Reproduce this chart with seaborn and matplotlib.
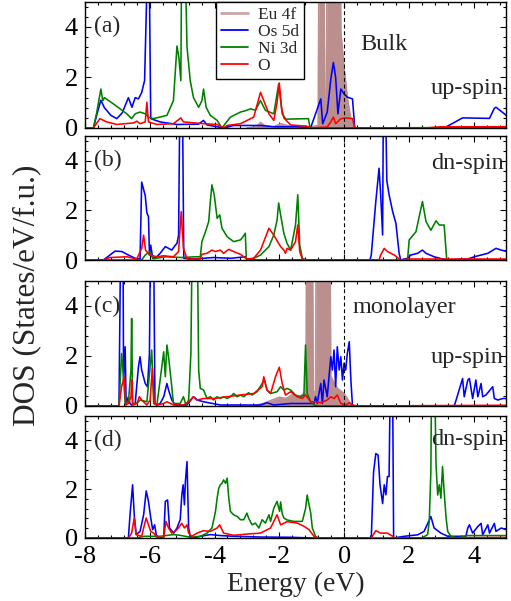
import matplotlib
matplotlib.use("Agg")
import matplotlib.pyplot as plt
from matplotlib.lines import Line2D
from matplotlib.ticker import MultipleLocator
import pandas as pd
import seaborn as sns

# ---------------- projected DOS, (energy eV, states/eV/f.u.) ----------------
# (a) bulk, spin up
BULK_UP_EU4F = [(-3.0, 0.0), (-2.7, 0.05), (-2.58, 0.22), (-2.45, 0.1), (-2.2, 0.03), (-1.96, 0.17),
                (-1.7, 0.08), (-1.5, 0.03), (-1.0, 0.05), (-0.8, 0.1), (-0.77, 8.0), (-0.63, 8.0),
                (-0.6, 1.0), (-0.55, 1.0), (-0.52, 8.0), (-0.12, 8.0), (-0.1, 3.8), (0.0, 2.4),
                (0.1, 1.2), (0.2, 0.43), (0.33, 0.0), (5.0, 0.0)]
BULK_UP_OS5D = [(-8.0, 0.0), (-7.74, 0.0), (-7.64, 0.5), (-7.51, 1.1), (-7.4, 0.8), (-7.2, 0.5),
                (-7.02, 0.37), (-6.85, 0.6), (-6.66, 1.2), (-6.55, 0.82), (-6.45, 1.2), (-6.35, 1.15),
                (-6.25, 1.4), (-6.16, 1.88), (-6.09, 5.5), (-6.06, 8.0), (-6.03, 8.0), (-5.97, 0.37),
                (-5.68, 0.24), (-5.16, 0.14), (-4.5, 0.15), (-4.34, 0.3), (-4.23, 0.12), (-3.92, 0.05),
                (-3.72, 0.0), (-3.41, 0.1), (-2.58, 0.1), (-2.17, 0.05), (-1.5, 0.05), (-1.03, 0.02),
                (-0.88, 0.56), (-0.72, 1.15), (-0.66, 0.17), (-0.52, 0.63), (-0.41, 1.93), (-0.33, 2.59),
                (-0.26, 2.0), (-0.19, 0.56), (-0.1, 1.54), (0.0, 1.35), (0.1, 1.22), (0.26, 1.15),
                (0.33, 0.0), (3.09, 0.0), (3.66, 0.4), (4.49, 0.38), (4.64, 0.78), (4.69, 0.82),
                (4.95, 0.56), (5.0, 0.5)]
BULK_UP_NI3D = [(-8.0, 0.0), (-7.74, 0.0), (-7.64, 0.6), (-7.51, 1.54), (-7.45, 1.08), (-7.4, 1.2),
                (-7.12, 0.95), (-6.71, 0.56), (-6.56, 0.37), (-6.45, 0.56), (-6.3, 0.63), (-6.14, 0.56),
                (-6.04, 0.43), (-5.89, 0.37), (-5.47, 0.5), (-5.27, 1.08), (-5.16, 3.24), (-5.1, 2.78),
                (-5.04, 1.87), (-5.01, 8.0), (-4.93, 8.0), (-4.85, 3.2), (-4.75, 1.87), (-4.65, 1.2),
                (-4.49, 0.82), (-4.39, 1.08), (-4.34, 1.54), (-4.26, 0.82), (-4.13, 0.5), (-3.92, 0.3),
                (-3.77, 0.0), (-3.67, 0.17), (-3.51, 0.43), (-3.2, 0.63), (-3.0, 0.7), (-2.89, 0.76),
                (-2.74, 0.7), (-2.58, 1.08), (-2.43, 0.7), (-2.17, 0.56), (-2.02, 1.74), (-1.91, 0.56),
                (-1.8, 0.35), (-1.1, 0.37), (-1.05, 0.0), (5.0, 0.02)]
BULK_UP_O = [(-8.0, 0.0), (-7.74, 0.0), (-7.54, 0.37), (-7.33, 0.24), (-7.02, 0.14), (-6.5, 0.2),
             (-6.4, 0.27), (-6.3, 0.17), (-6.14, 0.24), (-6.09, 1.02), (-6.04, 0.24), (-5.78, 0.14),
             (-5.27, 0.17), (-5.04, 0.4), (-4.96, 0.24), (-4.34, 0.17), (-3.92, 0.14), (-3.72, 0.0),
             (-3.61, 0.1), (-3.2, 0.17), (-2.79, 0.43), (-2.58, 1.41), (-2.48, 1.08), (-2.32, 0.56),
             (-2.17, 0.3), (-2.07, 1.0), (-2.0, 1.78), (-1.93, 0.8), (-1.86, 0.4), (-1.65, 0.12),
             (-1.14, 0.07), (-1.03, 0.0), (-0.52, 0.04), (-0.41, 0.24), (-0.33, 0.43), (-0.26, 0.17),
             (-0.1, 0.37), (0.1, 0.4), (0.26, 0.37), (0.33, 0.0), (2.5, 0.0), (3.0, 0.05), (5.0, 0.05)]

# (b) bulk, spin down
BULK_DN_OS5D = [(-8.0, 0.0), (-7.43, 0.0), (-7.23, 0.2), (-7.07, 0.36), (-6.86, 0.34), (-6.66, 0.2),
                (-6.45, 0.07), (-6.3, 0.04), (-6.25, 3.14), (-6.14, 2.6), (-6.09, 1.9), (-6.04, 1.75),
                (-6.01, 0.2), (-5.97, 0.6), (-5.91, 0.07), (-5.78, 0.13), (-5.68, 0.27), (-5.52, 0.54),
                (-5.42, 0.47), (-5.32, 0.4), (-5.21, 0.6), (-5.16, 0.67), (-5.11, 1.0), (-5.06, 8.0),
                (-5.0, 8.0), (-4.95, 0.07), (-4.65, 0.04), (-4.03, 0.1), (-3.5, 0.07), (-3.05, 0.13),
                (-3.0, 0.0), (0.8, 0.0), (0.84, 0.2), (0.98, 2.36), (1.08, 3.7), (1.13, 2.63),
                (1.19, 1.01), (1.22, 8.0), (1.26, 8.0), (1.32, 3.2), (1.39, 2.63), (1.5, 1.95),
                (1.6, 1.48), (1.7, 0.27), (1.75, 0.0), (1.96, 0.07), (2.06, 0.2), (2.27, 0.27),
                (2.42, 0.4), (2.53, 0.27), (2.78, 0.13), (3.04, 0.04), (3.2, 0.0), (3.82, 0.04),
                (4.02, 0.13), (4.44, 0.27), (4.69, 0.47), (4.85, 0.4), (5.0, 0.35)]
BULK_DN_NI3D = [(-8.0, 0.0), (-6.25, 0.0), (-6.14, 0.2), (-6.0, 0.34), (-5.9, 0.05), (-5.5, 0.13),
                (-5.0, 0.1), (-4.6, 0.13), (-4.44, 0.13), (-4.39, 0.74), (-4.28, 1.14), (-4.18, 1.55),
                (-4.13, 2.36), (-4.08, 3.03), (-4.01, 2.63), (-3.92, 1.68), (-3.84, 1.82), (-3.77, 1.28),
                (-3.61, 0.94), (-3.41, 0.74), (-3.2, 0.81), (-3.12, 0.94), (-3.05, 1.08), (-3.02, 0.07),
                (-2.89, 0.0), (-2.58, 0.2), (-2.32, 0.54), (-2.17, 1.01), (-2.07, 1.6), (-2.02, 2.3),
                (-1.96, 1.82), (-1.86, 1.08), (-1.76, 0.67), (-1.65, 0.4), (-1.6, 0.74), (-1.5, 1.41),
                (-1.43, 2.63), (-1.37, 0.61), (-1.29, 0.07), (-1.19, 0.0), (1.96, 0.0), (2.01, 0.81),
                (2.22, 1.14), (2.42, 2.36), (2.53, 1.55), (2.68, 1.2), (2.84, 1.58), (2.94, 1.41),
                (3.09, 1.41), (3.17, 0.0), (5.0, 0.0)]
BULK_DN_O = [(-8.0, 0.0), (-7.43, 0.0), (-7.23, 0.1), (-6.71, 0.13), (-6.4, 0.04), (-6.25, 0.47),
             (-6.19, 1.0), (-6.13, 0.4), (-6.0, 0.2), (-5.78, 0.13), (-5.57, 0.17), (-5.27, 0.13),
             (-5.11, 0.34), (-5.03, 1.95), (-4.96, 0.47), (-4.85, 0.04), (-4.44, 0.04), (-4.39, 0.23),
             (-4.23, 0.27), (-4.08, 0.4), (-3.97, 0.34), (-3.82, 0.4), (-3.72, 0.27), (-3.56, 0.43),
             (-3.41, 0.34), (-3.2, 0.23), (-3.0, 0.04), (-2.79, 0.07), (-2.58, 0.4), (-2.32, 1.28),
             (-2.17, 1.0), (-1.96, 0.54), (-1.86, 0.4), (-1.81, 0.27), (-1.76, 0.47), (-1.65, 0.4),
             (-1.5, 0.74), (-1.43, 1.41), (-1.37, 0.34), (-1.29, 0.04), (-1.19, 0.0), (1.08, 0.0),
             (1.13, 0.2), (1.24, 0.47), (1.34, 0.34), (1.55, 0.2), (1.75, 0.0), (2.0, 0.04),
             (5.0, 0.04)]

# (c) monolayer, spin up
MONO_UP_EU4F = [(-2.8, 0.0), (-2.5, 0.1), (-2.2, 0.25), (-2.0, 0.35), (-1.8, 0.3), (-1.6, 0.45),
                (-1.4, 0.35), (-1.25, 0.5), (-1.18, 0.6), (-1.15, 8.0), (-0.98, 8.0), (-0.95, 0.5),
                (-0.88, 0.6), (-0.86, 8.0), (-0.71, 8.0), (-0.68, 2.0), (-0.65, 8.0), (-0.44, 8.0),
                (-0.41, 1.2), (-0.3, 0.9), (-0.2, 0.7), (-0.1, 0.6), (0.0, 0.5), (0.1, 0.3),
                (0.2, 0.1), (0.27, 0.0), (5.0, 0.0)]
MONO_UP_OS5D = [(-8.0, 0.0), (-6.95, 0.0), (-6.89, 8.0), (-6.83, 8.0), (-6.81, 1.04), (-6.76, 2.37),
                (-6.73, 0.1), (-6.66, 0.37), (-6.61, 0.1), (-6.56, 0.04), (-6.45, 0.1), (-6.35, 1.57),
                (-6.3, 1.97), (-6.25, 1.44), (-6.14, 0.9), (-6.07, 0.77), (-6.01, 2.1), (-5.97, 8.0),
                (-5.89, 8.0), (-5.84, 0.1), (-5.78, 0.04), (-5.68, 0.1), (-5.57, 0.37), (-5.47, 0.9),
                (-5.42, 0.64), (-5.32, 0.24), (-5.21, 0.04), (-4.85, 0.04), (-4.65, 0.37), (-4.54, 0.24),
                (-4.34, 0.17), (-3.82, 0.04), (-2.58, 0.04), (-2.38, 0.13), (-2.17, 0.04), (-1.65, 0.1),
                (-0.93, 0.1), (-0.88, 0.37), (-0.83, 0.1), (-0.72, 0.9), (-0.67, 0.1), (-0.62, 1.04),
                (-0.52, 0.37), (-0.41, 1.97), (-0.36, 1.44), (-0.31, 2.24), (-0.26, 0.77), (-0.21, 2.37),
                (-0.15, 1.44), (-0.1, 1.97), (-0.05, 1.04), (0.0, 1.71), (0.05, 1.44), (0.1, 2.1),
                (0.16, 2.57), (0.21, 1.04), (0.26, 0.0), (3.4, 0.0), (3.46, 0.24), (3.66, 1.1),
                (3.71, 0.37), (3.82, 1.04), (3.87, 1.1), (3.97, 0.3), (4.07, 1.04), (4.13, 0.37),
                (4.23, 0.9), (4.28, 0.37), (4.38, 0.44), (4.59, 0.77), (4.64, 0.3), (4.75, 0.24),
                (4.9, 0.3), (5.0, 0.3)]
MONO_UP_NI3D = [(-8.0, 0.0), (-6.95, 0.0), (-6.87, 2.1), (-6.81, 1.17), (-6.76, 0.1), (-6.66, 0.17),
                (-6.58, 1.44), (-6.56, 3.5), (-6.53, 0.1), (-6.4, 0.1), (-6.3, 0.24), (-6.09, 0.17),
                (-5.94, 2.24), (-5.88, 0.1), (-5.78, 0.04), (-5.68, 1.04), (-5.57, 2.17), (-5.52, 1.17),
                (-5.47, 2.44), (-5.42, 1.97), (-5.32, 0.77), (-5.27, 0.1), (-5.06, 0.1), (-4.96, 0.37),
                (-4.88, 0.04), (-4.8, 0.24), (-4.73, 2.1), (-4.68, 8.0), (-4.54, 8.0), (-4.49, 1.44),
                (-4.44, 0.7), (-4.34, 0.64), (-4.23, 0.3), (-4.13, 0.37), (-4.03, 0.24), (-3.92, 0.37),
                (-3.82, 0.3), (-3.72, 0.37), (-3.61, 0.3), (-3.51, 0.37), (-3.41, 0.5), (-3.3, 0.37),
                (-3.2, 0.44), (-3.1, 0.37), (-2.95, 0.53), (-2.84, 0.44), (-2.69, 0.57), (-2.53, 0.9),
                (-2.46, 1.04), (-2.38, 0.64), (-2.27, 0.5), (-2.07, 0.57), (-1.96, 0.77), (-1.86, 0.64),
                (-1.76, 0.7), (-1.65, 0.64), (-1.5, 0.44), (-1.34, 0.37), (-1.24, 0.44), (-1.19, 2.44),
                (-1.14, 0.5), (-1.03, 0.17), (-0.93, 0.04), (-0.8, 0.0), (5.0, 0.0)]
MONO_UP_O = [(-8.0, 0.0), (-6.95, 0.0), (-6.87, 0.77), (-6.79, 1.17), (-6.74, 0.04), (-6.66, 0.1),
             (-6.58, 0.37), (-6.56, 1.04), (-6.53, 0.04), (-6.4, 0.1), (-6.32, 0.37), (-6.25, 0.24),
             (-6.09, 0.04), (-5.99, 0.24), (-5.92, 1.5), (-5.86, 0.1), (-5.78, 0.04), (-5.57, 0.1),
             (-5.47, 0.17), (-5.27, 0.04), (-4.96, 0.04), (-4.8, 0.17), (-4.65, 0.37), (-4.54, 0.24),
             (-4.34, 0.3), (-4.03, 0.3), (-3.61, 0.37), (-3.2, 0.44), (-2.79, 0.5), (-2.53, 0.77),
             (-2.48, 1.17), (-2.38, 0.64), (-2.27, 0.5), (-2.11, 1.2), (-2.0, 1.55), (-1.91, 0.9),
             (-1.81, 0.44), (-1.65, 0.57), (-1.45, 0.37), (-1.29, 0.3), (-1.19, 0.44), (-1.03, 0.17),
             (-0.88, 0.17), (-0.72, 0.13), (-0.52, 0.24), (-0.41, 0.37), (-0.31, 0.3), (-0.21, 0.44),
             (-0.1, 0.1), (0.05, 0.04), (0.16, 0.13), (0.26, 0.04), (0.4, 0.0), (5.0, 0.03)]

# (d) monolayer, spin down
MONO_DN_OS5D = [(-8.0, 0.0), (-6.66, 0.0), (-6.61, 0.95), (-6.53, 2.18), (-6.48, 0.95), (-6.42, 0.14),
                (-6.3, 0.27), (-6.19, 0.95), (-6.11, 1.93), (-6.04, 1.5), (-5.97, 0.82), (-5.91, 0.34),
                (-5.85, 0.54), (-5.8, 0.14), (-5.73, 0.0), (-5.57, 0.0), (-5.52, 1.5), (-5.45, 1.56),
                (-5.39, 0.41), (-5.26, 0.2), (-5.16, 0.41), (-5.06, 0.75), (-5.01, 1.77), (-4.97, 2.18),
                (-4.93, 1.36), (-4.9, 2.31), (-4.85, 3.13), (-4.8, 0.41), (-4.75, 0.07), (-4.65, 0.0),
                (-4.44, 0.07), (-4.13, 0.14), (-3.82, 0.1), (-3.41, 0.07), (-2.58, 0.04), (-1.65, 0.03),
                (-1.0, 0.0), (0.84, 0.0), (0.91, 2.7), (0.98, 3.46), (1.05, 3.4), (1.11, 2.18),
                (1.19, 1.41), (1.24, 2.18), (1.29, 1.77), (1.34, 2.52), (1.39, 2.52), (1.44, 8.0),
                (1.49, 8.0), (1.53, 0.0), (1.86, 0.07), (2.27, 0.13), (2.47, 0.27), (2.68, 0.88),
                (2.78, 0.41), (2.99, 0.2), (3.2, 0.07), (3.76, 0.07), (3.82, 0.41), (3.87, 0.54),
                (3.97, 0.2), (4.13, 0.47), (4.23, 0.6), (4.28, 0.13), (4.44, 0.54), (4.49, 0.2),
                (4.64, 0.6), (4.69, 0.27), (4.85, 0.41), (5.0, 0.34)]
MONO_DN_NI3D = [(-8.0, 0.0), (-6.4, 0.0), (-6.19, 0.07), (-5.68, 0.07), (-5.27, 0.14), (-5.06, 0.11),
                (-4.75, 0.03), (-4.44, 0.07), (-4.23, 0.2), (-4.08, 0.41), (-3.97, 1.09), (-3.92, 1.63),
                (-3.87, 2.04), (-3.82, 2.18), (-3.77, 2.24), (-3.72, 2.38), (-3.66, 2.24), (-3.61, 2.45),
                (-3.56, 1.63), (-3.51, 1.09), (-3.41, 0.95), (-3.3, 0.88), (-3.2, 0.75), (-3.1, 0.75),
                (-3.0, 1.02), (-2.95, 0.82), (-2.84, 0.54), (-2.74, 0.61), (-2.63, 0.41), (-2.53, 0.75),
                (-2.43, 0.61), (-2.32, 0.95), (-2.27, 0.68), (-2.17, 1.22), (-2.07, 1.5), (-1.99, 1.09),
                (-1.96, 1.48), (-1.91, 1.0), (-1.86, 0.82), (-1.76, 0.74), (-1.55, 0.68), (-1.29, 0.68),
                (-1.19, 1.2), (-1.14, 1.76), (-1.08, 1.36), (-1.03, 1.02), (-0.98, 0.41), (-0.88, 0.07),
                (-0.8, 0.0), (2.4, 0.0), (2.58, 0.14), (2.63, 0.68), (2.68, 2.72), (2.71, 8.0),
                (2.78, 8.0), (2.84, 2.99), (2.89, 1.76), (2.94, 2.18), (2.99, 1.63), (3.04, 2.93),
                (3.09, 1.9), (3.15, 0.82), (3.2, 0.27), (3.3, 0.07), (3.5, 0.0), (3.8, 0.1),
                (4.5, 0.1), (5.0, 0.1)]
MONO_DN_O = [(-8.0, 0.0), (-6.66, 0.0), (-6.56, 0.2), (-6.48, 0.82), (-6.42, 0.14), (-6.25, 0.07),
             (-6.19, 0.41), (-6.11, 0.82), (-6.04, 0.54), (-5.97, 0.27), (-5.88, 0.2), (-5.78, 0.03),
             (-5.57, 0.03), (-5.5, 0.68), (-5.42, 0.41), (-5.32, 0.2), (-5.16, 0.34), (-5.01, 0.6),
             (-4.93, 0.41), (-4.85, 0.54), (-4.8, 0.2), (-4.7, 0.07), (-4.54, 0.2), (-4.34, 0.3),
             (-4.13, 0.27), (-3.92, 0.41), (-3.84, 0.54), (-3.72, 0.2), (-3.41, 0.11), (-3.0, 0.16),
             (-2.58, 0.2), (-2.27, 0.41), (-2.07, 0.95), (-1.96, 0.54), (-1.76, 0.67), (-1.44, 0.61),
             (-1.24, 0.48), (-1.08, 0.34), (-0.93, 0.07), (-0.82, 0.0), (0.82, 0.0), (0.87, 0.07),
             (0.98, 0.3), (1.13, 0.2), (1.34, 0.2), (1.5, 0.07), (1.55, 0.0), (5.0, 0.02)]

ORBITALS = ["Eu 4f", "Os 5d", "Ni 3d", "O"]
COLORS = {"Eu 4f": "#bc8f8f", "Os 5d": "#0000ff", "Ni 3d": "#008000", "O": "#ff0000"}

PANELS = [
    {"tag": "(a)", "pdos": {"Eu 4f": BULK_UP_EU4F, "Os 5d": BULK_UP_OS5D,
                            "Ni 3d": BULK_UP_NI3D, "O": BULK_UP_O},
     "notes": [("Bulk", 0.5, 3.3, "left"), ("up-spin", 4.93, 1.55, "right")]},
    {"tag": "(b)", "pdos": {"Os 5d": BULK_DN_OS5D, "Ni 3d": BULK_DN_NI3D, "O": BULK_DN_O},
     "notes": [("dn-spin", 4.93, 3.9, "right")]},
    {"tag": "(c)", "pdos": {"Eu 4f": MONO_UP_EU4F, "Os 5d": MONO_UP_OS5D,
                            "Ni 3d": MONO_UP_NI3D, "O": MONO_UP_O},
     "notes": [("monolayer", 0.27, 3.95, "left"), ("up-spin", 4.93, 1.95, "right")]},
    {"tag": "(d)", "pdos": {"Os 5d": MONO_DN_OS5D, "Ni 3d": MONO_DN_NI3D, "O": MONO_DN_O},
     "notes": [("dn-spin", 4.93, 4.05, "right")]},
]

sns.set_theme(style="ticks")
plt.rcParams["font.family"] = ["Liberation Serif", "DejaVu Serif"]
plt.rcParams["axes.unicode_minus"] = False

W, H = 511, 601
fig = plt.figure(figsize=(W / 100, H / 100), dpi=100)

# axes boxes in pixels: (top, bottom)
LEFT, RIGHT = 85, 506
BOXES = [(1.5, 128), (136, 260), (281, 406), (416, 538)]

for i, (panel, (top, bot)) in enumerate(zip(PANELS, BOXES)):
    ax = fig.add_axes([LEFT / W, 1 - bot / H, (RIGHT - LEFT) / W, (bot - top) / H])

    rows = []
    for orb in ORBITALS:
        for e, d in panel["pdos"].get(orb, []):
            rows.append({"E": e, "DOS": d, "orbital": orb})
    df = pd.DataFrame(rows)

    if "Eu 4f" in panel["pdos"]:
        eu = df[df["orbital"] == "Eu 4f"]
        ax.fill_between(eu["E"], 0, eu["DOS"], color=COLORS["Eu 4f"], lw=0, zorder=1)

    order = [o for o in ORBITALS if o in panel["pdos"]]
    sns.lineplot(data=df, x="E", y="DOS", hue="orbital", hue_order=order,
                 palette=COLORS, estimator=None, sort=False, lw=1.15,
                 legend=False, ax=ax, zorder=2)

    ax.axvline(0, color="black", lw=0.8, ls=(0, (3.5, 2.5)), zorder=3)

    ax.set_xlim(-8, 5)
    ax.set_ylim(0, 5)
    ax.xaxis.set_major_locator(MultipleLocator(2))
    ax.xaxis.set_minor_locator(MultipleLocator(0.4))
    ax.yaxis.set_major_locator(MultipleLocator(2))
    ax.yaxis.set_minor_locator(MultipleLocator(0.4))
    ax.tick_params(which="both", direction="in", top=True, right=True,
                   labelsize=19, pad=5, colors="black", width=0.8)
    ax.tick_params(which="major", length=4.5)
    ax.tick_params(which="minor", length=2.5)
    ax.tick_params(axis="x", pad=6)
    ax.set_xlabel("")
    ax.set_ylabel("")
    if i < 3:
        ax.tick_params(labelbottom=False)
    for sp in ax.spines.values():
        sp.set_color("black")
        sp.set_linewidth(1.0)

    ax.text(-7.72, 4.0, panel["tag"], fontsize=17, va="center", ha="left")
    for txt, x, y, ha in panel["notes"]:
        ax.text(x, y, txt, fontsize=17.5, va="center", ha=ha)

    if i == 0:
        handles = [Line2D([], [], color=COLORS["Eu 4f"], lw=2.0, alpha=0.8)] + \
                  [Line2D([], [], color=COLORS[o], lw=1.3) for o in ORBITALS[1:]]
        leg = ax.legend(handles, ORBITALS, loc="upper left", bbox_to_anchor=(0.311, 1.0),
                        borderaxespad=0, fontsize=12.5, frameon=True, fancybox=False,
                        framealpha=1, edgecolor="black", handlelength=1.55,
                        handletextpad=0.55, labelspacing=0.05, borderpad=0.3)
        leg.get_frame().set_linewidth(1.0)
        leg.set_zorder(10)

fig.text(296 / W, 1 - 584 / H, "Energy (eV)", fontsize=20, ha="center", va="center")
fig.text(27 / W, 1 - 295 / H, "DOS (States/eV/f.u.)", fontsize=22.5, ha="center",
         va="center", rotation=90)

fig.savefig("out.png", dpi=100)
